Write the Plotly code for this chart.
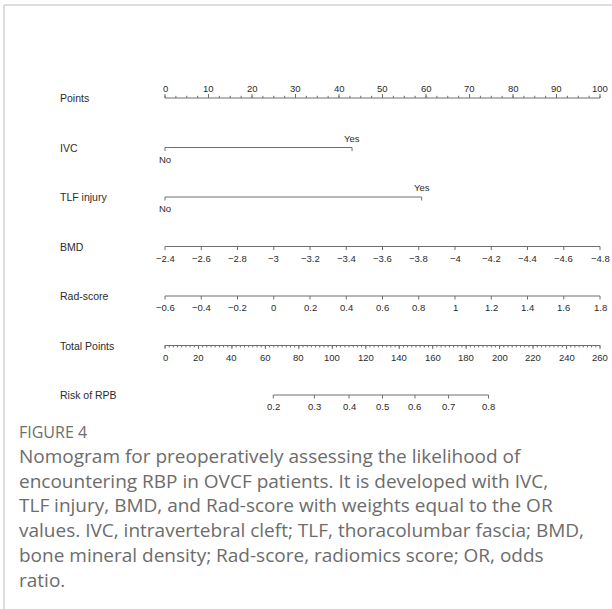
import plotly.graph_objects as go

# ---------------- data ----------------
row_names = ["Points", "IVC", "TLF injury", "BMD", "Rad-score", "Total Points", "Risk of RPB"]

points_ticks = [0, 10, 20, 30, 40, 50, 60, 70, 80, 90, 100]
points_minor_step = 2.5

ivc_levels = ["No", "Yes"]
ivc_points = [0, 43]
tlf_levels = ["No", "Yes"]
tlf_points = [0, 59]

bmd_ticks = [-2.4, -2.6, -2.8, -3.0, -3.2, -3.4, -3.6, -3.8, -4.0, -4.2, -4.4, -4.6, -4.8]
bmd_labels = ["−2.4", "−2.6", "−2.8", "−3", "−3.2", "−3.4", "−3.6", "−3.8", "−4", "−4.2", "−4.4", "−4.6", "−4.8"]

rad_ticks = [-0.6, -0.4, -0.2, 0.0, 0.2, 0.4, 0.6, 0.8, 1.0, 1.2, 1.4, 1.6, 1.8]
rad_labels = ["−0.6", "−0.4", "−0.2", "0", "0.2", "0.4", "0.6", "0.8", "1", "1.2", "1.4", "1.6", "1.8"]

total_ticks = [0, 20, 40, 60, 80, 100, 120, 140, 160, 180, 200, 220, 240, 260]
total_minor_step = 2.5
total_max = 260

risk_labels = ["0.2", "0.3", "0.4", "0.5", "0.6", "0.7", "0.8"]
risk_total_points = [64.7, 89.3, 110.0, 130.0, 149.4, 169.5, 193.4]

caption_title = "FIGURE 4"
caption_lines = [
    "Nomogram for preoperatively assessing the likelihood of",
    "encountering RBP in OVCF patients. It is developed with IVC,",
    "TLF injury, BMD, and Rad-score with weights equal to the OR",
    "values. IVC, intravertebral cleft; TLF, thoracolumbar fascia; BMD,",
    "bone mineral density; Rad-score, radiomics score; OR, odds",
    "ratio.",
]

# ---------------- geometry / style ----------------
W, H = 612, 609
X0_PX, X100_PX = 165, 600          # pixel position of 0 and 100 points
ROW0_PX, ROW_STEP = 98, 49.5       # pixel position of first row, row spacing
PXPT = (X100_PX - X0_PX) / 100.0
PXROW = ROW_STEP

LINE_COL = "#6e6e6e"
TXT_COL = "#2b2b2b"
FONT = "Liberation Sans, Arial, sans-serif"
NAME_SIZE = 10.5
TICK_SIZE = 9.5


def px2row(px):
    return px / PXROW


def bmd_to_pts(v):
    return (v - bmd_ticks[0]) / (bmd_ticks[-1] - bmd_ticks[0]) * 100


def rad_to_pts(v):
    return (v - rad_ticks[0]) / (rad_ticks[-1] - rad_ticks[0]) * 100


def tot_to_pts(v):
    return v / total_max * 100


fig = go.Figure()
annotations = []


def add_axis(row, xs, labels, tick_len_px=3.5, up=False, label_side="below",
             minor=None, label_sides=None):
    fig.add_trace(go.Scatter(x=[min(xs), max(xs)], y=[row, row], mode="lines",
                             line=dict(color=LINE_COL, width=1), hoverinfo="skip"))
    sgn = -1 if up else 1
    tx, ty = [], []
    for x in xs:
        tx += [x, x, None]
        ty += [row, row + sgn * px2row(tick_len_px), None]
    if minor is not None:
        for x in minor:
            tx += [x, x, None]
            ty += [row, row + sgn * px2row(tick_len_px * 0.55), None]
    fig.add_trace(go.Scatter(x=tx, y=ty, mode="lines",
                             line=dict(color=LINE_COL, width=1), hoverinfo="skip"))
    for i, (x, lab) in enumerate(zip(xs, labels)):
        side = label_sides[i] if label_sides else label_side
        off = 11.5 if side == "below" else -9.5
        annotations.append(dict(x=x, y=row + px2row(off), xref="x", yref="y",
                                text=lab, showarrow=False, xanchor="center",
                                yanchor="middle",
                                font=dict(family=FONT, size=TICK_SIZE, color=TXT_COL)))


pts_minor = [i * points_minor_step for i in range(int(100 / points_minor_step) + 1)]
add_axis(0, points_ticks, [str(t) for t in points_ticks], tick_len_px=4, up=True,
         label_side="above", minor=pts_minor)
add_axis(1, ivc_points, ivc_levels, label_sides=["below", "above"])
add_axis(2, tlf_points, tlf_levels, label_sides=["below", "above"])
add_axis(3, [bmd_to_pts(v) for v in bmd_ticks], bmd_labels)
add_axis(4, [rad_to_pts(v) for v in rad_ticks], rad_labels)
tot_minor = [tot_to_pts(i * total_minor_step) for i in range(int(total_max / total_minor_step) + 1)]
add_axis(5, [tot_to_pts(v) for v in total_ticks], [str(t) for t in total_ticks],
         tick_len_px=3.5, minor=tot_minor)
add_axis(6, [tot_to_pts(v) for v in risk_total_points], risk_labels)

for i, name in enumerate(row_names):
    annotations.append(dict(x=58 / W, y=i, xref="paper", yref="y", text=name,
                            showarrow=False, xanchor="left", yanchor="middle",
                            font=dict(family=FONT, size=NAME_SIZE, color=TXT_COL)))

CAP_X = 17
annotations.append(dict(x=CAP_X / W, y=1 - 432 / H, xref="paper", yref="paper",
                        text=caption_title, showarrow=False, xanchor="left",
                        yanchor="middle",
                        font=dict(family="Open Sans, sans-serif", size=16, color="#6e6e6e")))
CAP_FS = 19
line_h = 1.3 * CAP_FS
first_c = 456
block_mid = first_c + line_h * (len(caption_lines) - 1) / 2
annotations.append(dict(x=CAP_X / W, y=1 - block_mid / H, xref="paper", yref="paper",
                        text="<br>".join(caption_lines), showarrow=False,
                        xanchor="left", yanchor="middle", align="left",
                        font=dict(family="Open Sans, sans-serif", size=CAP_FS,
                                  color="#6c6c6c")))

shapes = [
    dict(type="line", xref="paper", yref="paper", x0=4 / W, x1=1, y0=1 - 5 / H, y1=1 - 5 / H,
         line=dict(color="#d2d2d2", width=1.5)),
    dict(type="line", xref="paper", yref="paper", x0=4 / W, x1=4 / W, y0=0, y1=1 - 5 / H,
         line=dict(color="#d2d2d2", width=1.5)),
]

fig.update_layout(
    width=W, height=H,
    margin=dict(l=0, r=0, t=0, b=0),
    paper_bgcolor="white", plot_bgcolor="white",
    showlegend=False,
    xaxis=dict(range=[-X0_PX / PXPT, 100 + (W - X100_PX) / PXPT], visible=False, fixedrange=True),
    yaxis=dict(range=[(H - ROW0_PX) / PXROW, -ROW0_PX / PXROW], visible=False, fixedrange=True),
    annotations=annotations,
    shapes=shapes,
)

fig.write_html("out.html",
               config={"displayModeBar": False},
               post_script="document.body.style.margin='0';document.body.style.overflow='hidden';")
